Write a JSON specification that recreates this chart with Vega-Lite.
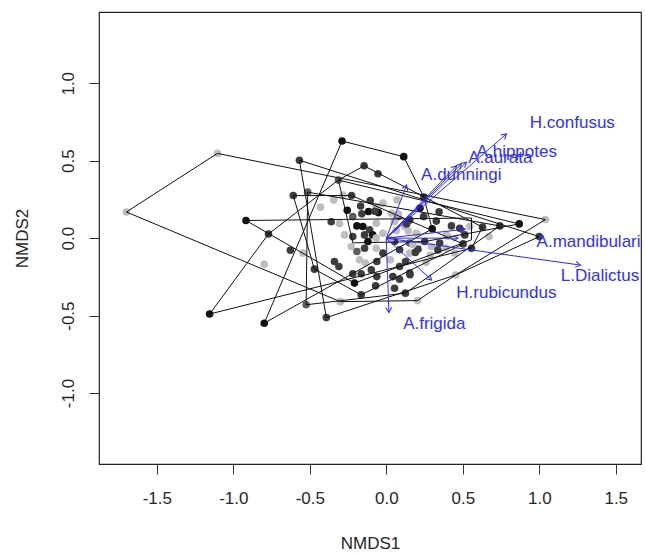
{
  "$schema": "https://vega.github.io/schema/vega-lite/v6.json",
  "width": 542,
  "height": 452,
  "autosize": {"type": "none"},
  "padding": {"left": 99, "top": 12, "right": 5, "bottom": 91},
  "config": {
    "view": {"stroke": "#222222", "strokeWidth": 1.2},
    "axis": {"domain": false, "grid": false, "tickSize": 10, "tickColor": "#333333", "tickWidth": 1,
      "labelFont": "Liberation Sans", "labelFontSize": 17, "labelColor": "#262626",
      "titleFont": "Liberation Sans", "titleFontSize": 17, "titleFontWeight": "normal", "titleColor": "#262626"}
  },
  "datasets": {
    "pts": [
      {"x": -1.699, "y": 0.169, "c": "l"}, {"x": -1.104, "y": 0.547, "c": "l"}, {"x": -0.289, "y": 0.627, "c": "k"},
      {"x": 0.114, "y": 0.526, "c": "k"}, {"x": -0.568, "y": 0.503, "c": "d"}, {"x": -0.145, "y": 0.467, "c": "d"},
      {"x": -0.054, "y": 0.416, "c": "d"}, {"x": -0.313, "y": 0.375, "c": "m"}, {"x": -0.608, "y": 0.275, "c": "d"},
      {"x": -0.514, "y": 0.297, "c": "m"}, {"x": -0.43, "y": 0.2, "c": "l"}, {"x": -0.227, "y": 0.275, "c": "d"},
      {"x": -0.284, "y": 0.279, "c": "l"}, {"x": -0.343, "y": 0.247, "c": "l"}, {"x": -0.105, "y": 0.243, "c": "d"},
      {"x": -0.168, "y": 0.208, "c": "d"}, {"x": -0.255, "y": 0.18, "c": "k"}, {"x": -0.066, "y": 0.204, "c": "l"},
      {"x": -0.16, "y": 0.157, "c": "d"}, {"x": -0.116, "y": 0.172, "c": "k"}, {"x": -0.052, "y": 0.165, "c": "k"},
      {"x": -0.022, "y": 0.226, "c": "l"}, {"x": -0.219, "y": 0.139, "c": "m"}, {"x": -0.917, "y": 0.114, "c": "k"},
      {"x": -0.77, "y": 0.027, "c": "d"}, {"x": -0.627, "y": -0.078, "c": "d"}, {"x": -0.546, "y": -0.096, "c": "l"},
      {"x": -0.798, "y": -0.169, "c": "l"}, {"x": -0.47, "y": -0.2, "c": "d"}, {"x": -0.36, "y": 0.106, "c": "d"},
      {"x": -0.306, "y": 0.094, "c": "l"}, {"x": -0.192, "y": 0.079, "c": "k"}, {"x": -0.153, "y": 0.075, "c": "k"},
      {"x": -0.109, "y": 0.054, "c": "d"}, {"x": -0.273, "y": 0.021, "c": "l"}, {"x": -0.219, "y": 0.01, "c": "d"},
      {"x": -0.142, "y": 0.021, "c": "d"}, {"x": -0.12, "y": -0.022, "c": "k"}, {"x": -0.089, "y": 0.021, "c": "k"},
      {"x": -0.066, "y": 0.0, "c": "l"}, {"x": -0.229, "y": -0.054, "c": "l"}, {"x": -0.192, "y": -0.086, "c": "m"},
      {"x": -0.142, "y": -0.065, "c": "d"}, {"x": -0.066, "y": -0.065, "c": "l"}, {"x": -0.022, "y": 0.032, "c": "l"},
      {"x": 0.033, "y": 0.161, "c": "l"}, {"x": 0.07, "y": 0.247, "c": "l"}, {"x": 0.076, "y": 0.139, "c": "d"},
      {"x": 0.12, "y": 0.075, "c": "l"}, {"x": 0.153, "y": 0.118, "c": "d"}, {"x": 0.22, "y": 0.193, "c": "k"},
      {"x": 0.245, "y": 0.266, "c": "d"}, {"x": 0.345, "y": 0.17, "c": "d"}, {"x": 0.3, "y": 0.06, "c": "k"},
      {"x": 0.327, "y": 0.11, "c": "d"}, {"x": 0.244, "y": 0.139, "c": "d"}, {"x": 0.196, "y": 0.032, "c": "l"},
      {"x": 0.153, "y": -0.032, "c": "m"}, {"x": 0.065, "y": 0.05, "c": "l"}, {"x": 0.054, "y": -0.022, "c": "d"},
      {"x": 0.087, "y": -0.075, "c": "d"}, {"x": 0.153, "y": -0.097, "c": "l"}, {"x": 0.207, "y": -0.071, "c": "d"},
      {"x": 0.251, "y": -0.022, "c": "d"}, {"x": 0.295, "y": -0.054, "c": "l"}, {"x": 0.349, "y": -0.032, "c": "d"},
      {"x": 0.393, "y": 0.021, "c": "l"}, {"x": 0.426, "y": 0.079, "c": "d"}, {"x": 0.48, "y": 0.064, "c": "d"},
      {"x": 0.513, "y": 0.021, "c": "d"}, {"x": 0.546, "y": 0.075, "c": "l"}, {"x": 0.629, "y": 0.071, "c": "d"},
      {"x": 0.742, "y": 0.079, "c": "d"}, {"x": 0.869, "y": 0.092, "c": "k"}, {"x": 1.04, "y": 0.12, "c": "l"},
      {"x": 1.0, "y": 0.01, "c": "d"}, {"x": 0.672, "y": 0.01, "c": "l"}, {"x": 0.557, "y": -0.065, "c": "d"},
      {"x": 0.502, "y": -0.037, "c": "d"}, {"x": 0.447, "y": -0.097, "c": "l"}, {"x": 0.39, "y": -0.064, "c": "l"},
      {"x": -0.339, "y": -0.151, "c": "d"}, {"x": -0.31, "y": -0.183, "c": "d"}, {"x": -0.219, "y": -0.23, "c": "d"},
      {"x": -0.164, "y": -0.23, "c": "d"}, {"x": -0.136, "y": -0.161, "c": "l"}, {"x": -0.098, "y": -0.205, "c": "d"},
      {"x": -0.062, "y": -0.151, "c": "d"}, {"x": -0.175, "y": -0.14, "c": "l"}, {"x": -0.062, "y": -0.248, "c": "d"},
      {"x": -0.208, "y": -0.29, "c": "k"}, {"x": -0.07, "y": -0.308, "c": "d"}, {"x": -0.164, "y": -0.366, "c": "d"},
      {"x": 0.043, "y": -0.248, "c": "d"}, {"x": 0.087, "y": -0.183, "c": "d"}, {"x": 0.126, "y": -0.151, "c": "d"},
      {"x": 0.026, "y": -0.14, "c": "l"}, {"x": -0.022, "y": -0.097, "c": "d"}, {"x": 0.087, "y": -0.265, "c": "d"},
      {"x": 0.153, "y": -0.226, "c": "d"}, {"x": 0.054, "y": -0.323, "c": "d"}, {"x": 0.125, "y": -0.355, "c": "d"},
      {"x": 0.26, "y": -0.156, "c": "l"}, {"x": 0.204, "y": -0.403, "c": "l"}, {"x": 0.453, "y": -0.238, "c": "l"},
      {"x": -0.524, "y": -0.43, "c": "m"}, {"x": -0.392, "y": -0.513, "c": "d"}, {"x": -1.155, "y": -0.49, "c": "k"},
      {"x": -0.798, "y": -0.549, "c": "k"}, {"x": -0.3, "y": -0.41, "c": "l"}, {"x": 0.155, "y": -0.236, "c": "d"},
      {"x": 0.19, "y": -0.092, "c": "d"}, {"x": 0.337, "y": -0.076, "c": "d"}, {"x": 0.404, "y": 0.011, "c": "l"},
      {"x": 0.288, "y": -0.11, "c": "l"}, {"x": 0.174, "y": -0.041, "c": "l"}, {"x": 0.144, "y": 0.046, "c": "l"},
      {"x": 0.079, "y": 0.156, "c": "l"}, {"x": -0.065, "y": 0.096, "c": "l"}, {"x": 0.133, "y": 0.092, "c": "d"},
      {"x": 0.052, "y": 0.108, "c": "l"}, {"x": 0.025, "y": -0.009, "c": "l"}, {"x": -0.075, "y": 0.174, "c": "d"}
    ],
    "hulls": [
      {"g": 1, "o": 1, "x": -1.699, "y": 0.169}, {"g": 1, "o": 2, "x": -1.104, "y": 0.547}, {"g": 1, "o": 3, "x": 1.04, "y": 0.12},
      {"g": 1, "o": 4, "x": 0.453, "y": -0.238}, {"g": 1, "o": 5, "x": 0.204, "y": -0.403}, {"g": 1, "o": 6, "x": -0.3, "y": -0.41},
      {"g": 1, "o": 7, "x": -1.699, "y": 0.169},
      {"g": 2, "o": 1, "x": -0.289, "y": 0.627}, {"g": 2, "o": 2, "x": 0.114, "y": 0.526}, {"g": 2, "o": 3, "x": 0.245, "y": 0.266},
      {"g": 2, "o": 4, "x": 0.3, "y": 0.06}, {"g": 2, "o": 5, "x": -0.798, "y": -0.549}, {"g": 2, "o": 6, "x": -0.289, "y": 0.627},
      {"g": 3, "o": 1, "x": -0.917, "y": 0.114}, {"g": 3, "o": 2, "x": 0.557, "y": 0.13}, {"g": 3, "o": 3, "x": 0.557, "y": -0.011},
      {"g": 3, "o": 4, "x": -0.208, "y": -0.29}, {"g": 3, "o": 5, "x": -0.917, "y": 0.114},
      {"g": 4, "o": 1, "x": -0.568, "y": 0.503}, {"g": 4, "o": 2, "x": 1.0, "y": 0.01}, {"g": 4, "o": 3, "x": 0.453, "y": -0.238},
      {"g": 4, "o": 4, "x": -0.392, "y": -0.513}, {"g": 4, "o": 5, "x": -0.568, "y": 0.503},
      {"g": 5, "o": 1, "x": -1.155, "y": -0.49}, {"g": 5, "o": 2, "x": -0.77, "y": 0.027}, {"g": 5, "o": 3, "x": -0.313, "y": 0.375},
      {"g": 5, "o": 4, "x": -0.145, "y": 0.467}, {"g": 5, "o": 5, "x": 0.629, "y": 0.071}, {"g": 5, "o": 6, "x": 0.557, "y": -0.065},
      {"g": 5, "o": 7, "x": -1.155, "y": -0.49},
      {"g": 6, "o": 1, "x": -0.514, "y": 0.297}, {"g": 6, "o": 2, "x": 0.742, "y": 0.079}, {"g": 6, "o": 3, "x": 0.125, "y": -0.355},
      {"g": 6, "o": 4, "x": -0.524, "y": -0.43}, {"g": 6, "o": 5, "x": -0.514, "y": 0.297},
      {"g": 7, "o": 1, "x": -0.608, "y": 0.275}, {"g": 7, "o": 2, "x": -0.227, "y": 0.275}, {"g": 7, "o": 3, "x": 0.502, "y": -0.037},
      {"g": 7, "o": 4, "x": -0.164, "y": -0.366}, {"g": 7, "o": 5, "x": -0.47, "y": -0.2}, {"g": 7, "o": 6, "x": -0.608, "y": 0.275},
      {"g": 8, "o": 1, "x": -0.313, "y": 0.375}, {"g": 8, "o": 2, "x": 0.869, "y": 0.092}, {"g": 8, "o": 3, "x": 0.251, "y": -0.022},
      {"g": 8, "o": 4, "x": -0.219, "y": -0.03}, {"g": 8, "o": 5, "x": -0.313, "y": 0.375}
    ],
    "arrows": [
      {"sp": "A.dunningi", "x": 0.133, "y": 0.343, "lx": 0.49, "ly": 0.41},
      {"sp": "A.frigida", "x": 0.017, "y": -0.48, "lx": 0.314, "ly": -0.556},
      {"sp": "H.rubicundus", "x": 0.296, "y": -0.27, "lx": 0.785, "ly": -0.357},
      {"sp": "L.Dialictus", "x": 1.27, "y": -0.174, "lx": 1.397, "ly": -0.247},
      {"sp": "A.mandibularis", "x": 0.47, "y": 0.0, "lx": 1.35, "ly": -0.023},
      {"sp": "H.confusus", "x": 0.786, "y": 0.673, "lx": 1.216, "ly": 0.742},
      {"sp": "A.hippotes", "x": 0.524, "y": 0.49, "lx": 0.853, "ly": 0.558},
      {"sp": "A.aurata", "x": 0.491, "y": 0.479, "lx": 0.745, "ly": 0.519},
      {"sp": "", "x": 0.459, "y": 0.466, "lx": 0.6, "ly": 0.5},
      {"sp": "", "x": 0.516, "y": 0.058, "lx": 0.6, "ly": 0.06}
    ]
  },
  "layer": [
    {
      "data": {"name": "pts"},
      "mark": {"type": "circle", "size": 58, "opacity": 1},
      "encoding": {
        "x": {"field": "x", "type": "quantitative", "scale": {"domain": [-1.878, 1.665], "nice": false, "zero": false},
          "axis": {"title": "NMDS1", "values": [-1.5, -1, -0.5, 0, 0.5, 1, 1.5], "format": ".1f",
            "labelExpr": "replace(datum.label, '−', '-')", "labelPadding": 16, "titlePadding": 29}},
        "y": {"field": "y", "type": "quantitative", "scale": {"domain": [-1.458, 1.46], "nice": false, "zero": false},
          "axis": {"title": "NMDS2", "values": [-1, -0.5, 0, 0.5, 1], "format": ".1f",
            "labelExpr": "replace(datum.label, '−', '-')", "labelAngle": -90, "labelAlign": "center", "labelBaseline": "bottom",
            "labelPadding": 12, "titlePadding": 28}},
        "color": {"field": "c", "type": "nominal", "legend": null,
          "scale": {"domain": ["k", "d", "m", "l"], "range": ["#121212", "#3d3d3d", "#5e5e5e", "#bdbdbd"]}}
      }
    },
    {
      "data": {"name": "hulls"},
      "mark": {"type": "line", "color": "#111111", "strokeWidth": 1, "clip": true},
      "encoding": {
        "x": {"field": "x", "type": "quantitative"},
        "y": {"field": "y", "type": "quantitative"},
        "detail": {"field": "g", "type": "nominal"},
        "order": {"field": "o", "type": "quantitative"}
      }
    },
    {
      "data": {"name": "arrows"},
      "mark": {"type": "rule", "color": "#2a2aff", "strokeWidth": 1},
      "encoding": {
        "x": {"field": "x", "type": "quantitative"},
        "y": {"field": "y", "type": "quantitative"},
        "x2": {"datum": 0},
        "y2": {"datum": 0}
      }
    },
    {
      "data": {"name": "arrows"},
      "transform": [{"calculate": "atan2(datum.x * 152.67, datum.y * 155) * 180 / PI", "as": "ang"}],
      "mark": {"type": "point", "shape": "M -1 1.7 L 0 0 L 1 1.7", "filled": false, "size": 36, "color": "#2a2aff", "strokeWidth": 1, "opacity": 1},
      "encoding": {
        "x": {"field": "x", "type": "quantitative"},
        "y": {"field": "y", "type": "quantitative"},
        "angle": {"field": "ang", "type": "quantitative", "scale": null}
      }
    },
    {
      "data": {"name": "arrows"},
      "mark": {"type": "text", "font": "Liberation Sans", "fontSize": 17, "color": "#3030ff", "align": "center", "baseline": "middle", "clip": true},
      "encoding": {
        "x": {"field": "lx", "type": "quantitative"},
        "y": {"field": "ly", "type": "quantitative"},
        "text": {"field": "sp"}
      }
    }
  ]
}
